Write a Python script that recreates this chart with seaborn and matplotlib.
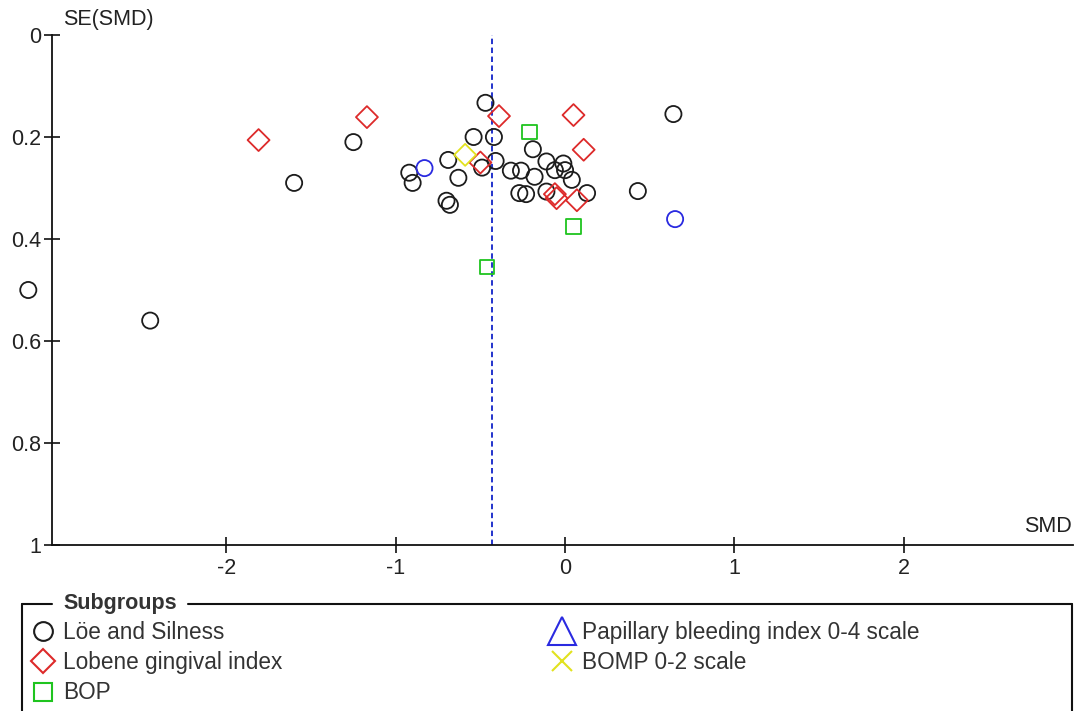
import numpy as np
import pandas as pd
import matplotlib
matplotlib.use("Agg")
import matplotlib.pyplot as plt
from matplotlib.lines import Line2D
import seaborn as sns

# ---- study estimates: standardized mean difference and its standard error ----
loe_smd = [-3.17, -2.45, -1.60, -1.25, -0.92, -0.90, -0.69, -0.63, -0.70, -0.68,
           -0.54, -0.47, -0.42, -0.41, -0.49, -0.32, -0.26, -0.19, -0.18, -0.11,
           -0.06, -0.01, 0.00, 0.04, -0.27, -0.23, -0.11, 0.13, 0.43, 0.64]
loe_se = [0.50, 0.56, 0.29, 0.21, 0.27, 0.29, 0.245, 0.28, 0.325, 0.333,
          0.20, 0.133, 0.20, 0.247, 0.26, 0.266, 0.266, 0.224, 0.278, 0.248,
          0.265, 0.252, 0.265, 0.284, 0.31, 0.312, 0.307, 0.31, 0.306, 0.155]

lobene_smd = [-1.81, -1.17, -0.39, 0.05, 0.11, -0.50, -0.06, -0.05, 0.07]
lobene_se = [0.206, 0.161, 0.159, 0.157, 0.225, 0.250, 0.312, 0.320, 0.324]

bop_smd = [-0.21, 0.05, -0.46]
bop_se = [0.190, 0.375, 0.455]

pbi_smd = [-0.83, 0.65]
pbi_se = [0.261, 0.361]

bomp_smd = [-0.59]
bomp_se = [0.235]

pooled_smd = -0.43

subgroups = ["Löe and Silness", "Lobene gingival index", "BOP",
             "Papillary bleeding index 0-4 scale", "BOMP 0-2 scale"]
x_ticks = [-2, -1, 0, 1, 2]
y_ticks = [0, 0.2, 0.4, 0.6, 0.8, 1]
y_tick_labels = ["0", "0.2", "0.4", "0.6", "0.8", "1"]

series = {
    subgroups[0]: (loe_smd, loe_se),
    subgroups[1]: (lobene_smd, lobene_se),
    subgroups[2]: (bop_smd, bop_se),
    subgroups[3]: (pbi_smd, pbi_se),
    subgroups[4]: (bomp_smd, bomp_se),
}

colors = {
    subgroups[0]: "#1c1c1c",
    subgroups[1]: "#dd2a2a",
    subgroups[2]: "#1fc41f",
    subgroups[3]: "#2a2ae0",
    subgroups[4]: "#e2e21e",
}
plot_markers = {subgroups[0]: "o", subgroups[1]: "D", subgroups[2]: "s",
                subgroups[3]: "o", subgroups[4]: "D"}
plot_sizes = {subgroups[0]: 135, subgroups[1]: 125, subgroups[2]: 110,
              subgroups[3]: 135, subgroups[4]: 125}
legend_markers = {subgroups[0]: ("o", 13.5), subgroups[1]: ("D", 12.5),
                  subgroups[2]: ("s", 12.5), subgroups[3]: ("^", 20),
                  subgroups[4]: ("x", 14)}

sns.set_style("ticks")
plt.rcParams["font.family"] = ["Liberation Sans", "DejaVu Sans"]

W, H = 1075, 711
fig = plt.figure(figsize=(W / 100, H / 100), dpi=100)
ax = fig.add_axes([52 / W, 1 - 545 / H, 1021 / W, 510 / H])

def fx(px):
    return px / W

def fy(py):
    return 1 - py / H

# pooled estimate
ax.axvline(pooled_smd, color="#2233cc", lw=1.4, ls=(0, (2.8, 1.8)), zorder=1)

for name in subgroups:
    xs, ys = series[name]
    df = pd.DataFrame({"SMD": xs, "SE": ys})
    sns.scatterplot(data=df, x="SMD", y="SE", ax=ax,
                    marker=plot_markers[name], s=plot_sizes[name],
                    color=colors[name], facecolor="none",
                    edgecolor=colors[name], linewidth=1.3,
                    clip_on=False, legend=False, zorder=3)
    coll = ax.collections[-1]
    coll.set_facecolor("none")
    coll.set_edgecolor(colors[name])

ax.set_xlim(-3.03, 3.0)
ax.set_ylim(1, 0)
ax.set_xticks(x_ticks)
ax.set_xticklabels([str(t) for t in x_ticks])
ax.set_yticks(y_ticks)
ax.set_yticklabels(y_tick_labels)
ax.set_xlabel("")
ax.set_ylabel("")

for side in ("top", "right"):
    ax.spines[side].set_visible(False)
for side in ("left", "bottom"):
    ax.spines[side].set_linewidth(1.3)
    ax.spines[side].set_color("#111111")

ax.tick_params(axis="both", direction="inout", length=11, width=1.2,
               color="#111111", labelsize=15.5, labelcolor="#222222")
ax.tick_params(axis="y", pad=2)
ax.tick_params(axis="x", pad=4)

fig.text(fx(63), fy(20), "SE(SMD)", ha="left", va="center",
         fontsize=15.5, color="#222222")
fig.text(fx(1072), fy(527), "SMD", ha="right", va="center",
         fontsize=15.5, color="#222222")

# ---- legend ----
def handle(name):
    m, ms = legend_markers[name]
    return Line2D([], [], ls="none", marker=m, ms=ms, mfc="none",
                  mec=colors[name], mew=1.5, color=colors[name])

leg_kw = dict(loc="upper left", frameon=False, fontsize=16.3,
              handlelength=0.95, handletextpad=0.42, labelspacing=0.32,
              borderpad=0, borderaxespad=0, labelcolor="#333333")
col1 = subgroups[:3]
col2 = subgroups[3:]
fig.legend([handle(n) for n in col1], col1,
           bbox_to_anchor=(fx(32), fy(621)), **leg_kw)
fig.legend([handle(n) for n in col2], col2,
           bbox_to_anchor=(fx(551), fy(621)), **leg_kw)

box_kw = dict(transform=fig.transFigure, color="#111111", lw=1.5)
fig.add_artist(Line2D([fx(22), fx(52)], [fy(604), fy(604)], **box_kw))
fig.add_artist(Line2D([fx(188), fx(1072)], [fy(604), fy(604)], **box_kw))
fig.add_artist(Line2D([fx(22), fx(22)], [fy(604), fy(712)], **box_kw))
fig.add_artist(Line2D([fx(1072), fx(1072)], [fy(604), fy(712)], **box_kw))
fig.text(fx(63), fy(604), "Subgroups", ha="left", va="center",
         fontsize=15.5, fontweight="bold", color="#333333")

fig.savefig("out.png", dpi=100, facecolor="white")
